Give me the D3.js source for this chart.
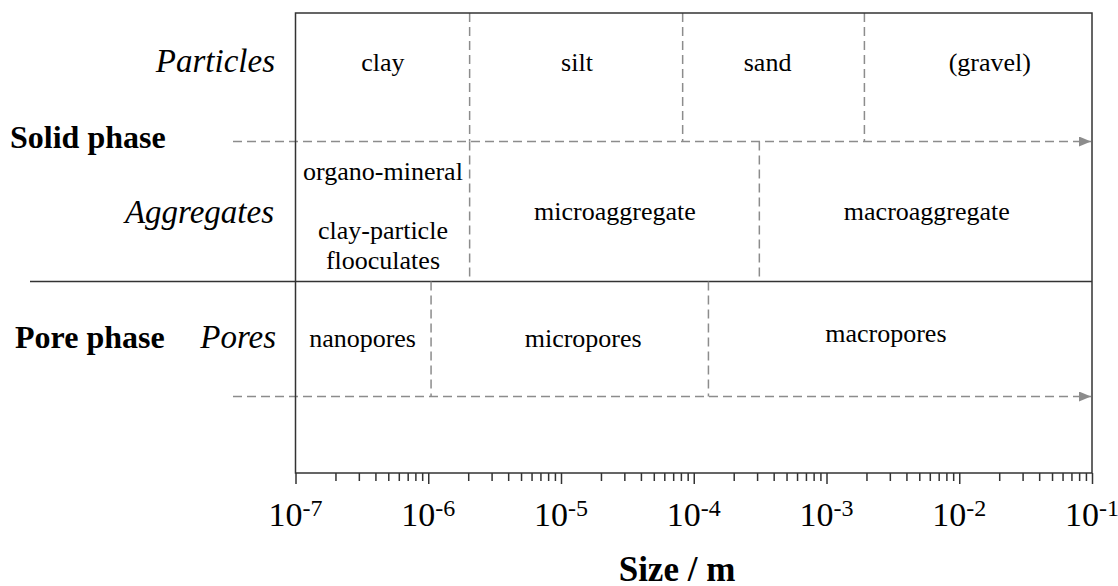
<!DOCTYPE html>
<meta charset="utf-8">
<style>
body { margin: 0; background: #fff; }
text { font-family: "Liberation Serif", "Times New Roman", "DejaVu Serif", serif; }
.frame { fill: none; stroke: #333; stroke-width: 1.5; }
.dash { fill: none; stroke: #8c8c8c; stroke-width: 1.5; stroke-dasharray: 9,5; }
.cell { font-size: 26px; fill: #000; text-anchor: middle; }
.rowlab { font-size: 33px; font-style: italic; text-anchor: end; }
.phase { font-size: 32px; font-weight: bold; }
</style>
<svg width="1118" height="586"></svg>
<script src="https://d3js.org/d3.v7.min.js"></script>
<script>

// size range of the axis (m)
var sizeMin = 1e-7, sizeMax = 1e-1;

// particle classes: boundaries between them and where each label sits
var particleNames = ["clay", "silt", "sand", "(gravel)"];
var particleBounds = [2.05e-6, 8.25e-5, 1.93e-3];
var particleLabelAt = [4.56e-7, 1.32e-5, 3.6e-4, 1.7e-2];

// aggregate classes
var aggregateNames = [["organo-mineral", "", "clay-particle", "flooculates"], ["microaggregate"], ["macroaggregate"]];
var aggregateBounds = [2.05e-6, 3.12e-4];
var aggregateLabelAt = [4.56e-7, 2.55e-5, 5.7e-3];

// pore classes
var poreNames = ["nanopores", "micropores", "macropores"];
var poreBounds = [1.05e-6, 1.29e-4];
var poreLabelAt = [3.2e-7, 1.47e-5, 2.8e-3];

var svg = d3.select("svg");

var left = 295.5, right = 1092, yTop = 13, yBottom = 473;
var yArrowSolid = 141.5, ySplit = 281.5, yArrowPore = 396.5;

var x = d3.scaleLog().domain([sizeMin, sizeMax]).range([left, right]);

// arrow head
svg.append("defs").append("marker")
    .attr("id", "head")
    .attr("viewBox", "0 0 12 10")
    .attr("refX", 12).attr("refY", 5)
    .attr("markerWidth", 12).attr("markerHeight", 10)
    .attr("markerUnits", "userSpaceOnUse")
    .attr("orient", "auto")
  .append("path")
    .attr("d", "M0,0L12,5L0,10z")
    .attr("fill", "#8c8c8c");

// solid separator between the phases
svg.append("line")
    .attr("x1", 30).attr("x2", right)
    .attr("y1", ySplit).attr("y2", ySplit)
    .attr("stroke", "#333").attr("stroke-width", 1.5);

// dashed arrows
[yArrowSolid, yArrowPore].forEach(function(y) {
  svg.append("line")
      .attr("class", "dash")
      .attr("x1", 233).attr("x2", right - 1)
      .attr("y1", y).attr("y2", y)
      .attr("marker-end", "url(#head)");
});

// dashed class boundaries
function bounds(vals, y0, y1) {
  svg.append("g").selectAll("line")
    .data(vals)
    .enter().append("line")
      .attr("class", "dash")
      .attr("x1", function(d) { return x(d); })
      .attr("x2", function(d) { return x(d); })
      .attr("y1", y0).attr("y2", y1);
}
bounds(particleBounds, yTop, yArrowSolid);
bounds(aggregateBounds, yArrowSolid, ySplit);
bounds(poreBounds, ySplit, yArrowPore);

// class labels
svg.append("g").selectAll("text")
  .data(particleNames)
  .enter().append("text")
    .attr("class", "cell")
    .attr("x", function(d, i) { return x(particleLabelAt[i]); })
    .attr("y", 71)
    .text(function(d) { return d; });

aggregateNames.forEach(function(lines, i) {
  var y0 = lines.length > 1 ? 180 : 220;
  var t = svg.append("text")
      .attr("class", "cell")
      .attr("y", y0);
  lines.forEach(function(s, j) {
    t.append("tspan")
        .attr("x", x(aggregateLabelAt[i]))
        .attr("y", y0 + j * 29.5)
        .text(s);
  });
});

svg.append("g").selectAll("text")
  .data(poreNames)
  .enter().append("text")
    .attr("class", "cell")
    .attr("x", function(d, i) { return x(poreLabelAt[i]); })
    .attr("y", function(d, i) { return i == 2 ? 342 : 347; })
    .text(function(d) { return d; });

// row labels
svg.append("text").attr("class", "rowlab").attr("x", 275).attr("y", 72).text("Particles");
svg.append("text").attr("class", "rowlab").attr("x", 274).attr("y", 223).text("Aggregates");
svg.append("text").attr("class", "rowlab").attr("x", 276).attr("y", 348).text("Pores");
svg.append("text").attr("class", "phase").attr("x", 10).attr("y", 148).text("Solid phase");
svg.append("text").attr("class", "phase").attr("x", 15).attr("y", 348).text("Pore phase");

// frame
svg.append("rect")
    .attr("class", "frame")
    .attr("x", left).attr("y", yTop)
    .attr("width", right - left).attr("height", yBottom - yTop);

// log axis
var majors = d3.range(-7, 0);
var axis = d3.axisBottom(x)
    .tickValues(x.ticks())
    .tickSize(11)
    .tickSizeOuter(0)
    .tickFormat("");

var gx = svg.append("g")
    .attr("transform", "translate(0," + yBottom + ")")
    .call(axis);
gx.select(".domain").remove();
gx.selectAll(".tick line")
    .attr("stroke", "#333").attr("stroke-width", 1.5)
    .attr("y2", function(d) { return Math.abs(Math.log10(d) - Math.round(Math.log10(d))) < 1e-9 ? 11 : 8; });

var lab = svg.append("g").selectAll("text")
  .data(majors)
  .enter().append("text")
    .attr("x", function(d) { return x(Math.pow(10, d)); })
    .attr("y", 526)
    .attr("text-anchor", "middle")
    .attr("font-size", 34);
lab.append("tspan").text("10");
lab.append("tspan")
    .attr("font-size", 24)
    .attr("dy", -10)
    .text(function(d) { return d; });

svg.append("text")
    .attr("x", 677).attr("y", 581)
    .attr("text-anchor", "middle")
    .attr("font-size", 35)
    .attr("font-weight", "bold")
    .text("Size / m");

</script>
